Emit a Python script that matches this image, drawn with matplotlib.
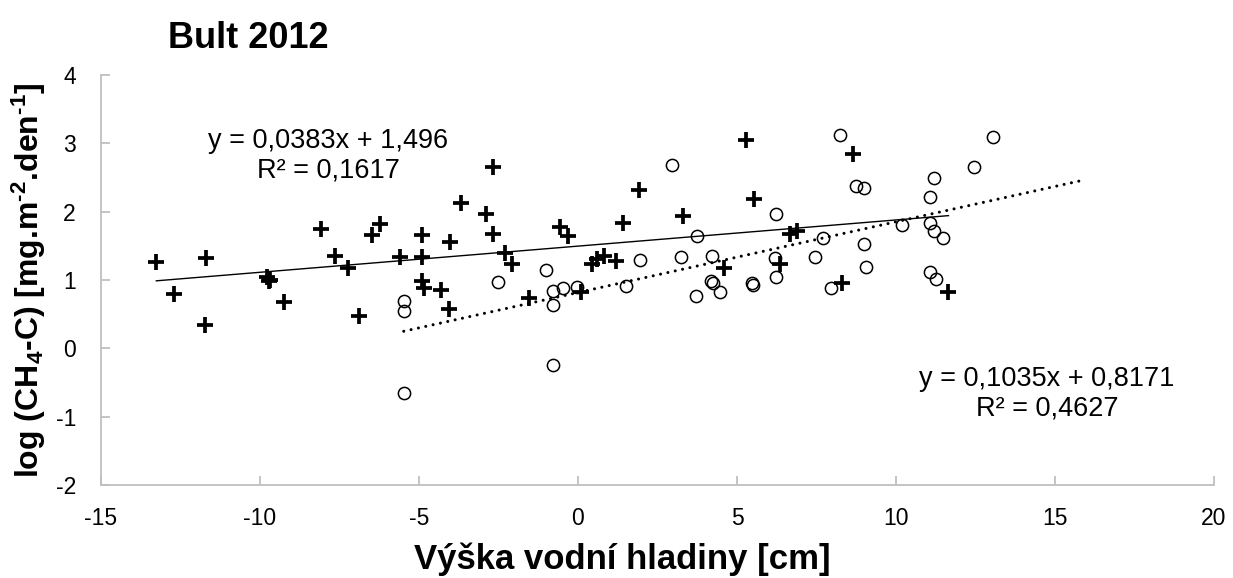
import matplotlib
matplotlib.use("Agg")
import matplotlib.pyplot as plt
import numpy as np

plt.rcParams['font.family'] = ['Liberation Sans', 'DejaVu Sans']
plt.rcParams['mathtext.fontset'] = 'custom'
plt.rcParams['mathtext.rm'] = 'Liberation Sans:bold'
plt.rcParams['mathtext.bf'] = 'Liberation Sans:bold'
plt.rcParams['mathtext.default'] = 'bf'

# Series 1 (crosses)
x_plus = [-13.26, -12.69, -11.69, -11.74, -9.78, -9.72, -9.68, -9.26, -8.08, -7.65,
          -7.24, -6.89, -6.48, -6.24, -5.59, -4.91, -4.91, -4.91, -4.85, -4.31,
          -4.04, -4.07, -3.67, -2.67, -2.89, -2.67, -2.29, -2.08, -1.55, -0.56,
          -0.30, 0.09, 0.44, 0.60, 0.83, 1.20, 1.42, 1.91, 3.30, 4.58,
          5.28, 5.54, 6.36, 6.68, 6.89, 8.30, 8.65, 11.65]
y_plus = [1.26, 0.79, 1.32, 0.34, 1.05, 0.98, 1.00, 0.68, 1.74, 1.35,
          1.18, 0.48, 1.66, 1.82, 1.33, 1.66, 1.33, 0.99, 0.88, 0.85,
          1.55, 0.57, 2.12, 2.66, 1.97, 1.67, 1.40, 1.23, 0.74, 1.77,
          1.64, 0.82, 1.23, 1.31, 1.35, 1.28, 1.83, 2.32, 1.94, 1.18,
          3.05, 2.19, 1.24, 1.68, 1.72, 0.96, 2.84, 0.83]

# Series 2 (open circles)
x_circ = [-5.48, -5.48, -5.48, -2.53, -1.00, -0.79, -0.79, -0.79, -0.47, -0.03,
          1.51, 1.96, 2.97, 3.25, 3.74, 3.71, 4.21, 4.19, 4.25, 4.47,
          5.47, 5.50, 6.24, 6.20, 6.23, 7.46, 7.72, 7.97, 8.25, 8.75,
          8.98, 8.98, 9.06, 10.19, 11.18, 11.06, 11.06, 11.20, 11.48, 11.06,
          11.26, 12.46, 13.05]
y_circ = [0.70, 0.55, -0.65, 0.97, 1.15, 0.84, 0.63, -0.24, 0.89, 0.90,
          0.91, 1.30, 2.69, 1.34, 1.65, 0.77, 1.35, 0.98, 0.95, 0.82,
          0.96, 0.93, 1.97, 1.32, 1.04, 1.33, 1.61, 0.88, 3.12, 2.38,
          2.34, 1.52, 1.19, 1.80, 2.50, 2.21, 1.83, 1.72, 1.61, 1.11,
          1.02, 2.66, 3.09]

# Trendline coefficients (from chart labels)
slope_plus, icpt_plus = 0.0383, 1.496
slope_circ, icpt_circ = 0.1035, 0.8171
trend_circ_end = 15.9

x_ticks = [-15, -10, -5, 0, 5, 10, 15, 20]
y_ticks = [-2, -1, 0, 1, 2, 3, 4]

fig = plt.figure(figsize=(12.33, 5.78), dpi=100)
ax = fig.add_axes([0.0819, 0.1609, 0.9027, 0.7093])

ax.plot(x_plus, y_plus, linestyle='none', marker='+', markersize=12,
        markeredgewidth=2.7, color='black', zorder=3)
ax.plot(x_circ, y_circ, linestyle='none', marker='o', markersize=8.8,
        markerfacecolor='none', markeredgecolor='black', markeredgewidth=1.1, zorder=3)

xp = np.array([min(x_plus), max(x_plus)])
ax.plot(xp, slope_plus * xp + icpt_plus, color='black', lw=1.0, zorder=2)
xc = np.array([min(x_circ), trend_circ_end])
ax.plot(xc, slope_circ * xc + icpt_circ, color='black', lw=2.2,
        linestyle=(0, (0.01, 2.45)), dash_capstyle='round', zorder=2)

ax.set_xlim(-15, 20)
ax.set_ylim(-2, 4)
ax.set_xticks(x_ticks)
ax.set_yticks(y_ticks)
ax.set_xticklabels([str(v) for v in x_ticks])
ax.set_yticklabels([str(v) for v in y_ticks])
for s in ['top', 'right']:
    ax.spines[s].set_visible(False)
for s in ['left', 'bottom']:
    ax.spines[s].set_color('#BFBFBF')
    ax.spines[s].set_linewidth(1.3)
ax.tick_params(axis='both', direction='in', length=6.5, width=1.3,
               color='#BFBFBF', labelsize=16.5, labelcolor='black')
ax.tick_params(axis='x', pad=16)
ax.tick_params(axis='y', pad=18)

ax.set_xlabel('Výška vodní hladiny [cm]', fontsize=25, fontweight='bold')
ax.xaxis.set_label_coords((622 - 101) / (1214 - 101), (485 - 569) / (485 - 75))
ax.xaxis.label.set_va('baseline')
ax.set_ylabel('log (CH$_{4}$\u2010C) [mg.m$^{\u20102}$.den$^{\u20101}$]', fontsize=23,
              fontweight='bold')
ax.yaxis.set_label_coords((29 - 101) / (1214 - 101), (485 - 280) / (485 - 75))
ax.yaxis.label.set_va('center')

fig.text(248 / 1233, 1 - 38 / 578, 'Bult 2012', fontsize=26, fontweight='bold',
         ha='center', va='center')

fig.text(328 / 1233, 1 - 156 / 578, 'y = 0,0383x + 1,496\nR² = 0,1617',
         fontsize=19.5, ha='center', va='center', linespacing=1.15)
fig.text(1047 / 1233, 1 - 394 / 578, 'y = 0,1035x + 0,8171\nR² = 0,4627',
         fontsize=19.5, ha='center', va='center', linespacing=1.15)

fig.savefig('out.png', dpi=100)
